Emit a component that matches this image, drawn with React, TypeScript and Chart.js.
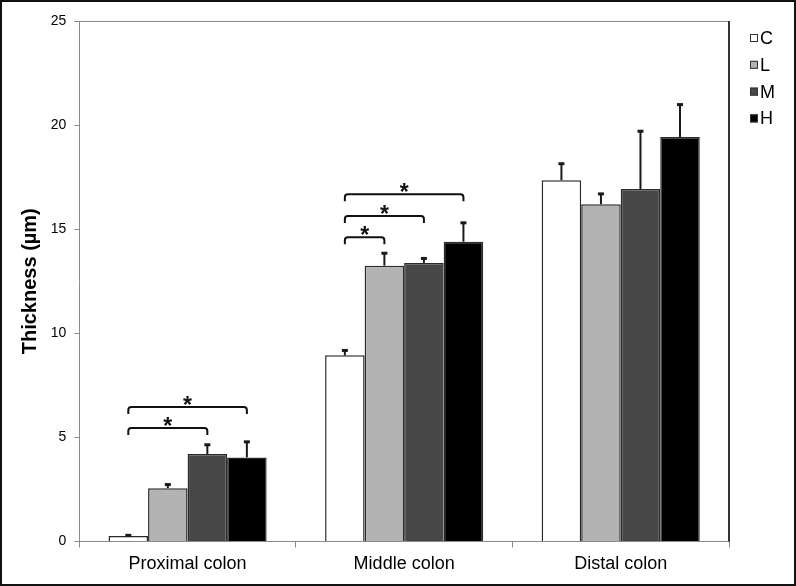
import React, { useEffect, useRef } from 'react';
import { Chart, registerables } from 'chart.js';
Chart.register(...registerables);

const categories = ['Proximal colon', 'Middle colon', 'Distal colon'];
const seriesNames = ['C', 'L', 'M', 'H'];
const valuesC = [0.26, 8.94, 17.35];
const valuesL = [2.56, 13.25, 16.2];
const valuesM = [4.2, 13.38, 16.93];
const valuesH = [4.04, 14.4, 19.43];
const errorsC = [0.06, 0.26, 0.82];
const errorsL = [0.2, 0.62, 0.52];
const errorsM = [0.47, 0.24, 2.8];
const errorsH = [0.77, 0.93, 1.58];
const seriesColors = ['#ffffff', '#b3b3b3', '#474747', '#000000'];
const yMin = 0;
const yMax = 25;
const yStep = 5;
const yTitle = 'Thickness (\u00b5m)';

// significance brackets: category index, from series, to series, level, mark
const bracketCategory = [0, 0, 1, 1, 1];
const bracketFrom = [0, 0, 0, 0, 0];
const bracketTo = [2, 3, 1, 2, 3];
const bracketLevel = [5.45, 6.46, 14.61, 15.63, 16.68];
const bracketMark = ['*', '*', '*', '*', '*'];

const FONT = "'Liberation Sans', Arial, sans-serif";

export default function App() {
  const ref = useRef<HTMLCanvasElement | null>(null);

  useEffect(() => {
    const canvas = ref.current;
    if (!canvas) return;
    Chart.defaults.font.family = FONT;

    const allValues = [valuesC, valuesL, valuesM, valuesH];
    const allErrors = [errorsC, errorsL, errorsM, errorsH];

    const decor = {
      id: 'decor',
      beforeDraw(chart: any) {
        const ctx = chart.ctx;
        ctx.save();
        ctx.fillStyle = '#ffffff';
        ctx.fillRect(0, 0, chart.width, chart.height);
        ctx.restore();
      },
      afterDatasetsDraw(chart: any) {
        const ctx = chart.ctx;
        const ys = chart.scales.y;
        ctx.save();
        // error bars
        allErrors.forEach((errs, d) => {
          const meta = chart.getDatasetMeta(d);
          errs.forEach((e, i) => {
            const bar = meta.data[i];
            const top = ys.getPixelForValue(allValues[d][i]);
            const ey = ys.getPixelForValue(allValues[d][i] + e);
            ctx.strokeStyle = '#1a1a1a';
            ctx.lineWidth = 2;
            ctx.beginPath();
            ctx.moveTo(bar.x, top);
            ctx.lineTo(bar.x, ey);
            ctx.stroke();
            ctx.lineWidth = 3;
            ctx.beginPath();
            ctx.moveTo(bar.x - 3, ey + 0.5);
            ctx.lineTo(bar.x + 3, ey + 0.5);
            ctx.stroke();
          });
        });
        // brackets
        bracketCategory.forEach((c, k) => {
          const x1 = chart.getDatasetMeta(bracketFrom[k]).data[c].x;
          const x2 = chart.getDatasetMeta(bracketTo[k]).data[c].x;
          const y = ys.getPixelForValue(bracketLevel[k]);
          const leg = 7;
          const r = 3;
          ctx.strokeStyle = '#111';
          ctx.lineWidth = 2;
          ctx.beginPath();
          ctx.moveTo(x1, y + leg);
          ctx.lineTo(x1, y + r);
          ctx.quadraticCurveTo(x1, y, x1 + r, y);
          ctx.lineTo(x2 - r, y);
          ctx.quadraticCurveTo(x2, y, x2, y + r);
          ctx.lineTo(x2, y + leg);
          ctx.stroke();
          ctx.fillStyle = '#111';
          ctx.font = `bold 23px ${FONT}`;
          ctx.textAlign = 'center';
          ctx.textBaseline = 'alphabetic';
          ctx.fillText(bracketMark[k], (x1 + x2) / 2, y + 6);
        });
        ctx.restore();
      },
      afterDraw(chart: any) {
        const ctx = chart.ctx;
        const a = chart.chartArea;
        ctx.save();
        // plot box top and right
        ctx.strokeStyle = '#8a8a8a';
        ctx.lineWidth = 1;
        ctx.beginPath();
        ctx.moveTo(a.left, a.top + 0.5);
        ctx.lineTo(a.right, a.top + 0.5);
        ctx.stroke();
        ctx.strokeStyle = '#333';
        ctx.lineWidth = 2;
        ctx.beginPath();
        ctx.moveTo(a.right, a.top);
        ctx.lineTo(a.right, a.bottom);
        ctx.stroke();
        // legend
        chart.data.datasets.forEach((ds: any, i: number) => {
          const cy = 38 + i * 26.8;
          ctx.fillStyle = ds.backgroundColor;
          ctx.fillRect(750, cy - 4, 8, 8);
          ctx.strokeStyle = '#333';
          ctx.lineWidth = 1;
          ctx.strokeRect(750.5, cy - 3.5, 7, 7);
          ctx.fillStyle = '#000';
          ctx.font = `18px ${FONT}`;
          ctx.textAlign = 'left';
          ctx.textBaseline = 'middle';
          ctx.fillText(ds.label, 760, cy + 1);
        });
        // outer frame
        ctx.strokeStyle = '#111';
        ctx.lineWidth = 2;
        ctx.strokeRect(1, 1, chart.width - 2, chart.height - 2);
        ctx.restore();
      },
    };

    const chart = new Chart(canvas, {
      type: 'bar',
      data: {
        labels: categories,
        datasets: seriesNames.map((name, d) => ({
          label: name,
          data: allValues[d],
          backgroundColor: seriesColors[d],
          borderColor: '#2a2a2a',
          borderWidth: 1.5,
          categoryPercentage: 0.73,
          barPercentage: 1.0,
        })),
      },
      options: {
        responsive: false,
        animation: false,
        devicePixelRatio: 1,
        layout: { padding: { top: 21, right: 67, left: 0, bottom: 0 } },
        plugins: {
          legend: { display: false },
          tooltip: { enabled: false },
        },
        scales: {
          x: {
            grid: {
              drawOnChartArea: false,
              offset: true,
              tickLength: 6,
              color: '#8a8a8a',
            },
            border: { color: '#8a8a8a', width: 1 },
            ticks: {
              color: '#000',
              font: { size: 18, family: FONT },
              padding: 6,
            },
            afterFit: (s: any) => {
              s.height = 44.5;
            },
          },
          y: {
            min: yMin,
            max: yMax,
            ticks: {
              stepSize: yStep,
              color: '#000',
              font: { size: 14, family: FONT },
              padding: 8,
            },
            grid: {
              drawOnChartArea: false,
              tickLength: 5,
              color: '#8a8a8a',
            },
            border: { color: '#8a8a8a', width: 1 },
            title: {
              display: true,
              text: yTitle,
              color: '#000',
              font: { size: 20, weight: 'bold', family: FONT },
              padding: { top: 18, bottom: 0 },
            },
            afterFit: (s: any) => {
              s.width = 79.3;
            },
          },
        },
      },
      plugins: [decor],
    });

    return () => chart.destroy();
  }, []);

  return (
    <div style={{ position: 'fixed', left: 0, top: 0, width: 796, height: 586 }}>
      <canvas ref={ref} width={796} height={586} style={{ display: 'block' }} />
    </div>
  );
}
